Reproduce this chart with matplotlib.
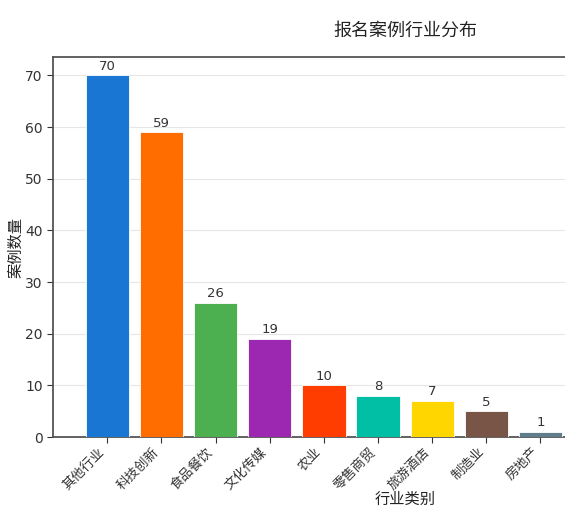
import matplotlib
matplotlib.use('Agg')
import matplotlib.pyplot as plt

# DejaVu for digits, Noto CJK for the Chinese glyphs
plt.rcParams['font.family'] = ['DejaVu Sans', 'Noto Sans CJK SC']
plt.rcParams['axes.unicode_minus'] = False

# 行业数据
industries = ['其他行业', '科技创新', '食品餐饮', '文化传媒', '农业', '零售商贸', '旅游酒店', '制造业', '房地产']
counts = [70, 59, 26, 19, 10, 8, 7, 5, 1]
colors = ['#1976D2', '#FF6D00', '#4CAF50', '#9C27B0', '#FF3D00',
          '#00BFA5', '#FFD600', '#795548', '#607D8B']

fig = plt.figure(figsize=(5.65, 5.16), dpi=100)
# the axes runs past the right edge, like the cropped screenshot
ax = fig.add_axes([0.094, 0.153, 1.246, 0.736])

x = range(len(industries))
bars = ax.bar(x, counts, width=0.8, color=colors, edgecolor='white', linewidth=0.6, zorder=3)

for b, v in zip(bars, counts):
    ax.text(b.get_x() + b.get_width() / 2, v + 0.5, str(v),
            ha='center', va='bottom', fontsize=9.5, color='#333333')

ax.set_xlim(-1, 12)
ax.set_ylim(0, 73.5)
ax.set_xticks(list(x))
ax.set_xticklabels(industries, rotation=45, ha='right', fontsize=9.5,
                   family='Noto Sans CJK SC')
ax.tick_params(axis='x', pad=2)
ax.tick_params(axis='y', labelsize=10)
ax.tick_params(colors='#333333', length=4)
ax.yaxis.grid(True, color='#e6e6e6', linewidth=0.8, zorder=0)

for s in ax.spines.values():
    s.set_color('#555555')
    s.set_linewidth(1.3)

ax.set_xlabel('行业类别', fontsize=11, color='#222222', family='Noto Sans CJK SC')
ax.xaxis.set_label_coords(0.5, -0.142)
ax.set_ylabel('案例数量', fontsize=11, color='#222222', family='Noto Sans CJK SC')
ax.yaxis.set_label_coords(-0.041, 0.5)
ax.text(0.5, 1.071, '报名案例行业分布', transform=ax.transAxes, ha='center', va='center',
        fontsize=13, color='#222222', family='Noto Sans CJK SC')

fig.savefig('out.png', dpi=100)
